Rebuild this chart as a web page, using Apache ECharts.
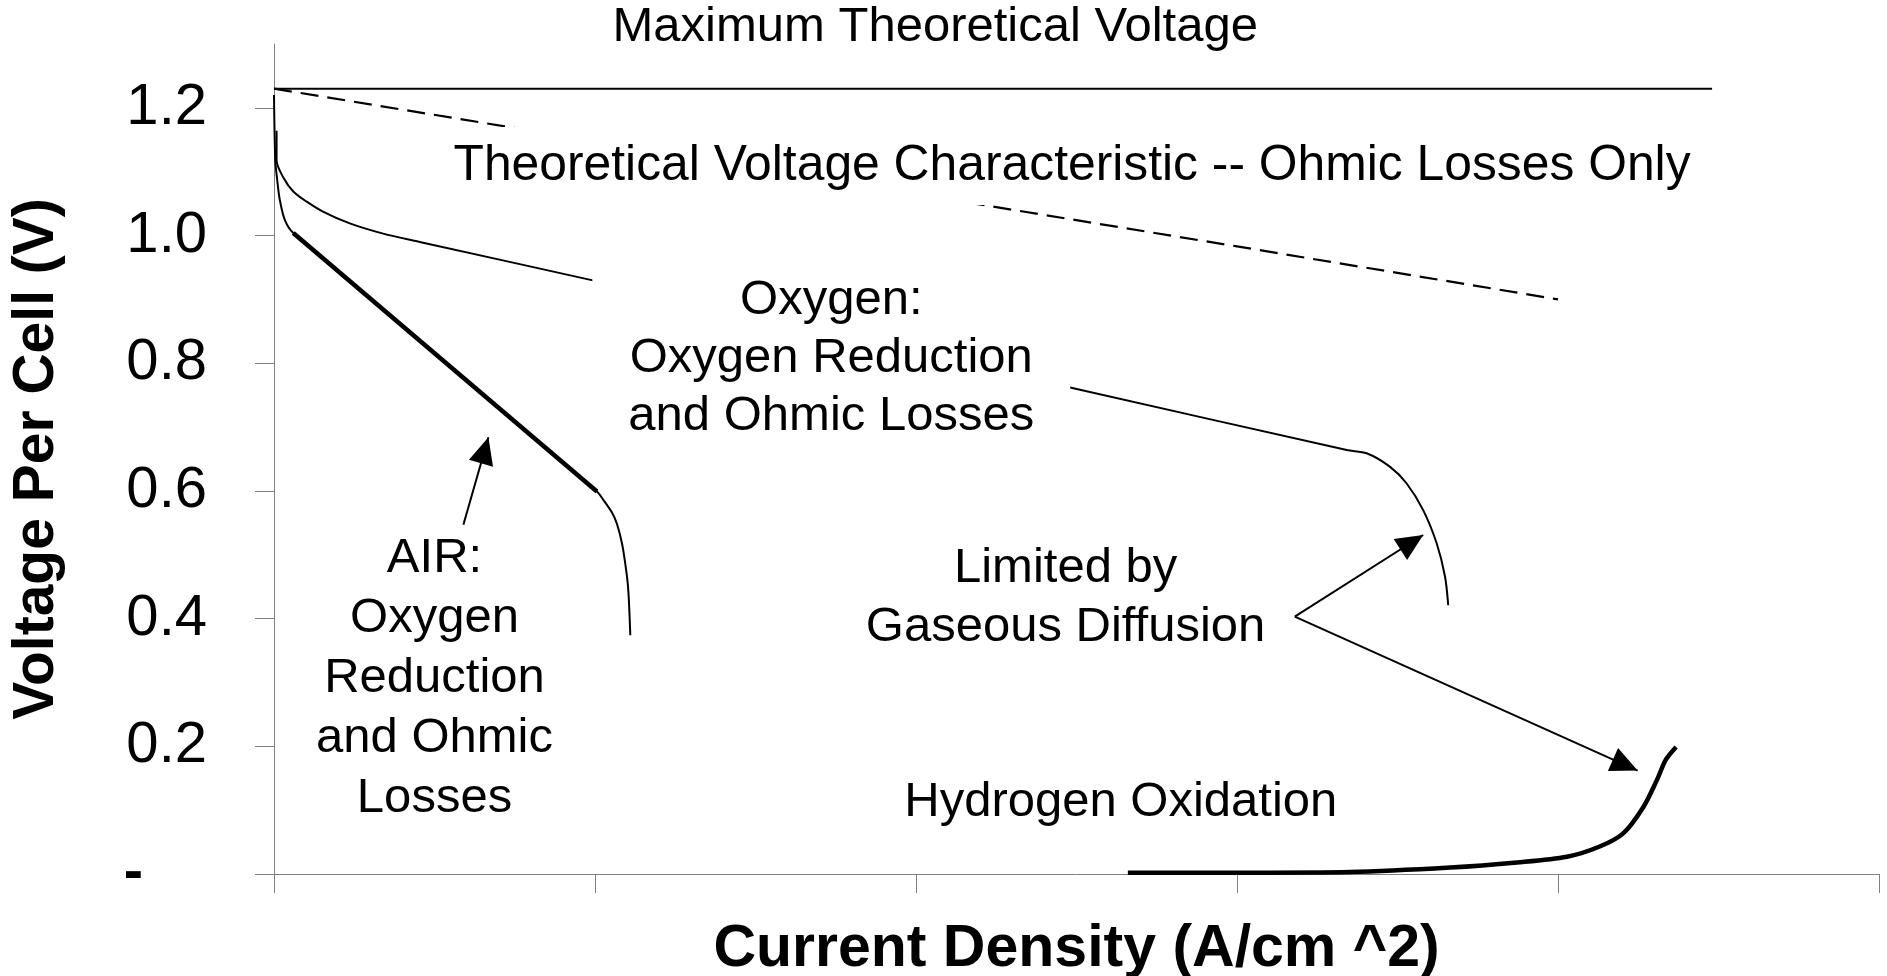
<!DOCTYPE html>
<html>
<head>
<meta charset="utf-8">
<script src="https://cdn.jsdelivr.net/npm/echarts@6/dist/echarts.min.js"></script>
<style>
  html, body { margin: 0; padding: 0; background: #ffffff; }
  #chart { width: 1887px; height: 976px; }
</style>
</head>
<body>
<div id="chart"></div>
<script>
// Fuel cell polarization: current density (A/cm^2) against voltage per cell (V)
const maxVoltage = [[0, 1.23], [2.24, 1.23]];
const ohmicOnly = [[0, 1.23], [0.5, 1.148], [1.0, 1.065], [1.5, 0.983], [2.0, 0.90]];
const oxygenCurve = [
  [0.004, 1.164], [0.004, 1.118], [0.015, 1.090], [0.030, 1.069], [0.051, 1.053],
  [0.077, 1.037], [0.118, 1.019], [0.170, 1.003], [0.227, 0.990], [0.500, 0.929],
  [1.240, 0.762], [1.671, 0.664], [1.702, 0.659], [1.738, 0.638], [1.764, 0.612],
  [1.790, 0.570], [1.811, 0.518], [1.824, 0.466], [1.829, 0.421]
];
const airCurve = [
  [0, 1.220], [0.002, 1.118], [0.005, 1.087], [0.009, 1.056], [0.017, 1.024],
  [0.030, 1.004], [0.266, 0.801], [0.503, 0.599], [0.513, 0.586], [0.526, 0.567],
  [0.534, 0.549], [0.542, 0.518], [0.547, 0.487], [0.551, 0.455], [0.553, 0.424],
  [0.555, 0.374]
];
const airOhmicSegment = [[0.030, 1.004], [0.503, 0.599]];
const hydrogenCurve = [
  [1.330, 0.002], [1.520, 0.002], [1.676, 0.003], [1.832, 0.010], [1.936, 0.018],
  [2.014, 0.027], [2.065, 0.043], [2.102, 0.064], [2.133, 0.105], [2.154, 0.147],
  [2.168, 0.179], [2.184, 0.199]
];
const voltageTicks = [0, 0.2, 0.4, 0.6, 0.8, 1.0, 1.2];

// Callout texts and where they sit, in axis units
const noteTexts = [
  'Maximum Theoretical Voltage',
  'Theoretical Voltage Characteristic -- Ohmic Losses Only',
  'Oxygen:\nOxygen Reduction\nand Ohmic Losses',
  'AIR:\nOxygen\nReduction\nand Ohmic\nLosses',
  'Limited by\nGaseous Diffusion',
  'Hydrogen Oxidation'
];
const noteAnchors = [
  [1.030, 1.326], [1.243, 1.109], [0.868, 0.807], [0.250, 0.307], [1.233, 0.432], [1.319, 0.112]
];
// Pointer arrows: tail and head, in axis units
const arrowTails = [[0.295, 0.547], [1.590, 0.403], [1.590, 0.403]];
const arrowHeads = [[0.334, 0.684], [1.790, 0.531], [2.124, 0.162]];

const FONT = '"Liberation Sans", Arial, Helvetica, sans-serif';
const AXIS_GRAY = '#808080';
const HEAD_W = 25;
const HEAD_L = 27;

// per-callout box styling: white boxes mask the curves they sit on
const noteStyles = [
  { lineHeight: 56 },
  { lineHeight: 56, fontSize: 49.8, backgroundColor: '#ffffff', padding: [4, 10, 18, 10] },
  { lineHeight: 58, backgroundColor: '#ffffff', padding: [6, 36, 6, 36] },
  { lineHeight: 60 },
  { lineHeight: 59 },
  { lineHeight: 56 }
];

const noteData = noteTexts.map((t, i) => ({
  value: noteAnchors[i],
  label: Object.assign({
    show: true,
    position: 'inside',
    formatter: t,
    fontFamily: FONT,
    fontSize: 49,
    color: '#000000',
    opacity: 1,
    align: 'center',
    verticalAlign: 'middle'
  }, noteStyles[i])
}));

const arrowShafts = arrowTails.map((p, i) => [{ coord: p }, { coord: arrowHeads[i] }]);

function curve(data, width, extra) {
  return Object.assign({
    type: 'line',
    data: data,
    showSymbol: false,
    symbol: 'none',
    silent: true,
    smooth: 0.3,
    z: 2,
    lineStyle: { color: '#000000', width: width },
    emphasis: { disabled: true }
  }, extra || {});
}

const chart = echarts.init(document.getElementById('chart'), null, { renderer: 'canvas' });

chart.setOption({
  animation: false,
  backgroundColor: '#ffffff',
  grid: { left: 274, right: 8, top: 44, bottom: 102, containLabel: false, outerBoundsMode: 'none' },
  xAxis: {
    type: 'value',
    min: 0,
    max: 2.5,
    interval: 0.5,
    name: 'Current Density (A/cm ^2)',
    nameLocation: 'middle',
    nameGap: 46,
    nameMoveOverlap: false,
    nameTextStyle: { fontFamily: FONT, fontSize: 59, fontWeight: 'bold', color: '#000000', lineHeight: 59 },
    axisLine: { show: true, onZero: false, lineStyle: { color: AXIS_GRAY, width: 1 } },
    axisTick: { show: true, inside: false, length: 19, lineStyle: { color: AXIS_GRAY, width: 1 } },
    axisLabel: { show: false },
    splitLine: { show: false }
  },
  yAxis: {
    type: 'value',
    min: 0,
    max: 1.3,
    name: 'Voltage Per Cell (V)',
    nameLocation: 'middle',
    nameGap: 208,
    nameMoveOverlap: false,
    nameTextStyle: { fontFamily: FONT, fontSize: 57, fontWeight: 'bold', color: '#000000', lineHeight: 57 },
    axisLine: { show: true, onZero: false, lineStyle: { color: AXIS_GRAY, width: 1 } },
    axisTick: { show: true, inside: false, length: 19, customValues: voltageTicks, lineStyle: { color: AXIS_GRAY, width: 1 } },
    axisLabel: {
      show: true,
      customValues: voltageTicks,
      margin: 67,
      fontFamily: FONT,
      fontSize: 58,
      color: '#000000',
      formatter: v => (Math.abs(v) < 1e-9 ? '{dash|-}' : v.toFixed(1)),
      rich: { dash: { fontFamily: FONT, fontSize: 58, fontWeight: 'bold', color: '#000000', padding: [0, 64, 0, 0] } }
    },
    splitLine: { show: false }
  },
  series: [
    curve(maxVoltage, 2, {
      smooth: false,
      markLine: {
        silent: true,
        symbol: ['none', 'none'],
        lineStyle: { color: '#000000', width: 2, type: 'solid' },
        label: { show: false },
        emphasis: { disabled: true },
        animation: false,
        data: arrowShafts
      }
    }),
    curve(ohmicOnly, 2.2, { smooth: false, lineStyle: { color: '#000000', width: 2.2, type: [18, 9] } }),
    curve(oxygenCurve, 2),
    curve(airCurve, 2),
    curve(airOhmicSegment, 4.5, { smooth: false, z: 3 }),
    curve(hydrogenCurve, 4.5, { z: 3 }),
    {
      id: 'notes',
      type: 'scatter',
      data: noteData,
      symbol: 'circle',
      symbolSize: 1,
      clip: false,
      silent: true,
      z: 10,
      itemStyle: { color: 'rgba(0,0,0,0)', opacity: 1 },
      emphasis: { disabled: true }
    },
    {
      id: 'arrowHeads',
      type: 'scatter',
      data: [],
      symbol: 'triangle',
      symbolSize: [HEAD_W, HEAD_L],
      clip: false,
      silent: true,
      z: 11,
      itemStyle: { color: '#000000', opacity: 1 },
      emphasis: { disabled: true }
    }
  ]
});

// Arrowheads: orient each triangle along its shaft, tip on the head point
const headItems = arrowHeads.map((h, i) => {
  const a = chart.convertToPixel({ gridIndex: 0 }, arrowTails[i]);
  const b = chart.convertToPixel({ gridIndex: 0 }, h);
  const dx = b[0] - a[0];
  const dy = b[1] - a[1];
  const len = Math.hypot(dx, dy);
  const ux = dx / len;
  const uy = dy / len;
  return {
    value: h,
    symbolRotate: Math.atan2(-ux, -uy) * 180 / Math.PI,
    symbolOffset: [-ux * HEAD_L / 2, -uy * HEAD_L / 2]
  };
});
chart.setOption({ series: [{ id: 'arrowHeads', data: headItems }] });
</script>
</body>
</html>
